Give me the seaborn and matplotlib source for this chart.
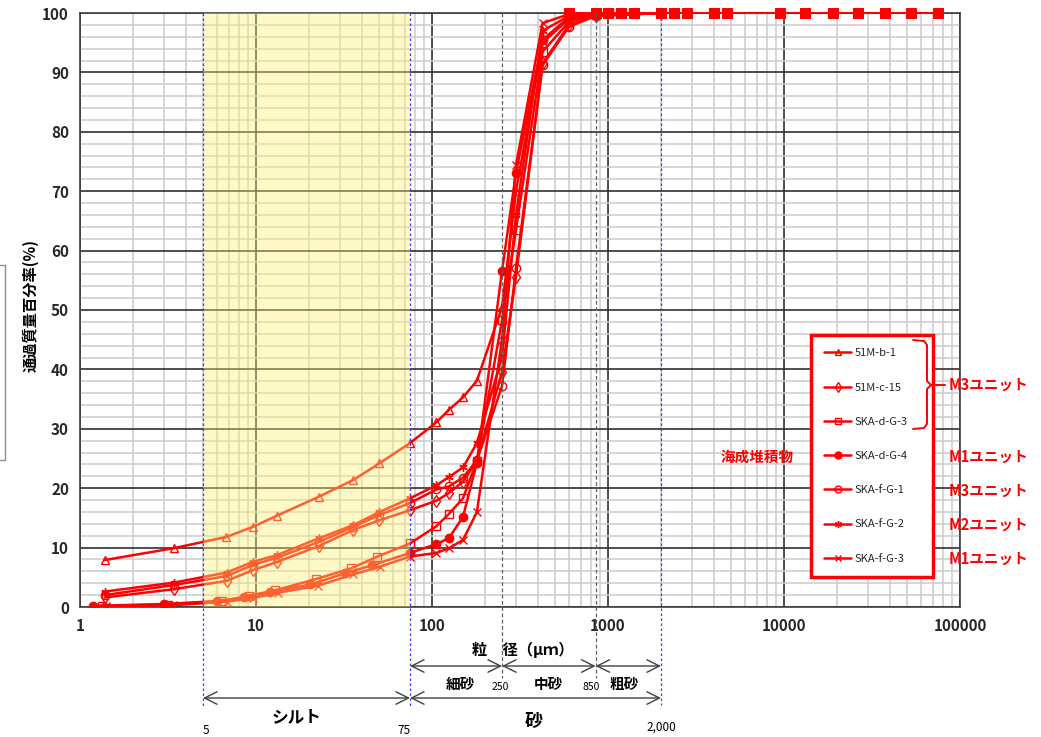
import numpy as np
import pandas as pd
import matplotlib
matplotlib.use("Agg")
import matplotlib.pyplot as plt
import matplotlib.transforms as mtransforms
from matplotlib.lines import Line2D
from matplotlib.ticker import FixedLocator, NullFormatter
import seaborn as sns

# sieve / hydrometer diameters (um) and passing percentage (%)
sieve = [75, 106, 125, 150, 180, 250, 300, 425, 600, 850, 2000]

d_b1 = [1.38, 3.41, 6.78, 9.62, 13.2, 22.9, 35.8, 50.3] + sieve
p_b1 = [7.9, 9.9, 11.8, 13.5, 15.4, 18.6, 21.4, 24.2,
        27.6, 31.1, 33.2, 35.3, 38.1, 50.5, 70.0, 95.0, 99.0, 99.8, 100]

d_c15 = [1.38, 3.41, 6.8, 9.6, 13.2, 22.9, 35.8, 50.3] + sieve
p_c15 = [1.6, 3.0, 4.4, 6.2, 7.6, 10.3, 13.0, 14.6,
         16.3, 17.9, 19.2, 21.1, 24.6, 39.6, 55.6, 91.5, 98.0, 99.5, 100]

d_dg3 = [1.33, 3.15, 6.43, 9.1, 12.8, 21.9, 34.7, 49.0] + sieve
p_dg3 = [0.2, 0.4, 1.0, 1.9, 2.8, 4.7, 6.5, 8.5,
         10.7, 13.6, 15.7, 18.3, 24.6, 48.3, 63.5, 93.5, 98.5, 99.7, 100]

d_dg4 = [1.19, 2.99, 6.02, 8.5, 12.0, 20.4, 32.2, 45.4] + sieve
p_dg4 = [0.2, 0.5, 1.0, 1.6, 2.5, 3.8, 5.7, 7.0,
         9.1, 10.6, 11.6, 15.2, 24.3, 56.6, 73.1, 95.5, 99.3, 100, 100]

d_fg1 = [1.38, 3.41, 6.8, 9.6, 13.2, 22.9, 35.8, 50.3] + sieve
p_fg1 = [2.0, 3.7, 5.2, 7.1, 8.3, 11.0, 13.5, 15.5,
         17.5, 19.8, 20.3, 21.8, 24.7, 37.2, 57.0, 91.2, 97.7, 99.5, 100]

d_fg2 = [1.38, 3.41, 6.8, 9.6, 13.2, 22.9, 35.8, 50.3] + sieve
p_fg2 = [2.6, 4.1, 5.8, 7.6, 8.75, 11.6, 13.8, 16.0,
         18.3, 20.5, 21.9, 23.5, 27.6, 42.1, 66.0, 97.0, 99.5, 100, 100]

d_fg3 = [1.41, 3.37, 6.8, 9.6, 13.4, 22.6, 35.8, 50.7] + sieve
p_fg3 = [0.1, 0.3, 0.9, 1.5, 2.4, 3.6, 5.5, 6.8,
         8.5, 9.1, 9.9, 11.3, 16.0, 45.0, 74.4, 98.3, 99.8, 100, 100]

# coarse sieves, all 100 %
d_coarse = [600, 850, 1000, 1180, 1400, 2000, 2360, 2800, 4000, 4750,
            9500, 13200, 19000, 26500, 37500, 53000, 75000]
p_coarse = [100] * len(d_coarse)

names = ["51M-b-1", "51M-c-15", "SKA-d-G-3", "SKA-d-G-4",
         "SKA-f-G-1", "SKA-f-G-2", "SKA-f-G-3"]
units = ["M3ユニット", "M1ユニット", "M3ユニット", "M2ユニット", "M1ユニット"]
xticks = [1, 10, 100, 1000, 10000, 100000]

series = [(d_b1, p_b1, "^", "none"), (d_c15, p_c15, "d", "none"),
          (d_dg3, p_dg3, "s", "none"), (d_dg4, p_dg4, "o", "red"),
          (d_fg1, p_fg1, "o", "none"), (d_fg2, p_fg2, (6, 2, 0), "none"),
          (d_fg3, p_fg3, "x", "none")]

sns.set_style("white")
plt.rcParams["font.family"] = ["Noto Sans CJK JP", "DejaVu Sans"]

W, H = 1041, 737
fig = plt.figure(figsize=(W / 100, H / 100), dpi=100)
ax = fig.add_axes([80 / W, 1 - 607 / H, 880 / W, 594 / H])

def fx(px):
    return px / W

def fy(py):
    return 1 - py / H

handles = []
for (d, p, m, fc), name in zip(series, names):
    df = pd.DataFrame({"d": d, "p": p})
    sns.lineplot(data=df, x="d", y="p", ax=ax, color="red", lw=1.8,
                 marker=m, markersize=6, markerfacecolor=fc,
                 markeredgecolor="red", markeredgewidth=1.0,
                 sort=False, zorder=4)
    handles.append(Line2D([], [], color="red", lw=1.8, marker=m,
                          markersize=5, markerfacecolor=fc,
                          markeredgecolor="red", label=name))

dfc = pd.DataFrame({"d": d_coarse, "p": p_coarse})
sns.lineplot(data=dfc, x="d", y="p", ax=ax, color="red", lw=1.5,
             marker="s", markersize=7, markeredgecolor="red",
             sort=False, zorder=4, clip_on=False)

ax.set_xscale("log")
ax.set_xlim(1, 100000)
ax.set_ylim(0, 100)

# grid
ax.xaxis.set_major_locator(FixedLocator(xticks))
ax.xaxis.set_minor_locator(FixedLocator(
    [m * 10 ** e for e in range(0, 5) for m in range(2, 10)]))
ax.xaxis.set_minor_formatter(NullFormatter())
ax.set_yticks(np.arange(0, 101, 10))
ax.set_yticks(np.arange(0, 101, 2), minor=True)
ax.grid(which="minor", color="#cccccc", lw=1.1, zorder=0)
ax.grid(which="major", color="#303030", lw=1.2, zorder=1)
ax.set_axisbelow(True)
ax.set_xticklabels([str(t) for t in xticks])
ax.tick_params(axis="both", which="both", length=0, labelsize=11, pad=8)
for lab in ax.get_xticklabels() + ax.get_yticklabels():
    lab.set_fontweight("bold")
for s in ax.spines.values():
    s.set_color("#404040")
    s.set_linewidth(1.2)
ax.set_xlabel("")
ax.set_ylabel("")

# silt range shading (drawn over the lines as in the original)
ax.axvspan(5, 75, color="#FFF176", alpha=0.4, zorder=5, lw=0)

# boundary lines
tr = mtransforms.blended_transform_factory(ax.transData, fig.transFigure)
for xv, yb in [(5, 708), (75, 708), (2000, 705)]:
    ax.plot([xv, xv], [fy(13), fy(yb)], transform=tr, color="#3b3bff",
            lw=0.9, ls=(0, (2, 2)), clip_on=False, zorder=6)
for xv in [250, 850]:
    ax.plot([xv, xv], [fy(13), fy(678)], transform=tr, color="#606060",
            lw=0.9, ls=(0, (3, 2)), clip_on=False, zorder=6)

# range arrows below the axis
arr = dict(arrowstyle="<->,head_length=0.9,head_width=0.45", color="#404040",
           lw=1.0, shrinkA=0, shrinkB=0)
for x0, x1, yy in [(75, 250, 666), (250, 850, 666), (850, 2000, 666),
                   (5, 75, 698), (75, 2000, 698)]:
    ax.annotate("", xy=(x0, fy(yy)), xytext=(x1, fy(yy)), xycoords=tr,
                textcoords=tr, arrowprops=arr, annotation_clip=False)

def ftext(px, py, s, size, bold=True, color="black", **kw):
    fig.text(fx(px), fy(py), s, fontsize=size, color=color,
             fontweight="bold" if bold else "normal",
             ha="center", va="center", **kw)

ftext(523, 650, "粒　径（μｍ）", 11)
ftext(460, 684, "細砂", 10.5)
ftext(548, 684, "中砂", 10.5)
ftext(624, 684, "粗砂", 10.5)
ftext(500, 687, "250", 7.5, bold=False)
ftext(591, 687, "850", 7.5, bold=False)
ftext(297, 717, "シルト", 12)
ftext(534, 721, "砂", 13)
ftext(206, 730, "5", 8.5, bold=False)
ftext(404, 730, "75", 8.5, bold=False)
ftext(661, 727, "2,000", 8.5, bold=False)
ftext(30, 305, "通過質量百分率(%)", 11, rotation=90)

# legend, stretched to the width of the red box
leg = ax.legend(handles=handles, loc="upper left", mode="expand",
                bbox_to_anchor=(fx(811), fy(575), fx(933) - fx(811), fy(335) - fy(575)),
                bbox_transform=fig.transFigure,
                fontsize=8, labelspacing=2.18, handlelength=2.4,
                handletextpad=0.3, borderpad=1.2, borderaxespad=0,
                fancybox=False, framealpha=1, edgecolor="red")
leg.get_frame().set_linewidth(2.5)
leg.set_zorder(10)

# unit labels
ftext(988, 385, units[0], 10.5, color="red")
for uy, u in zip([457, 491, 525, 559], units[1:]):
    ftext(988, uy, u, 10.5, color="red")
ftext(757, 457, "海成堆積物", 10.5, color="red")

# bracket for the three M3 samples
bx = [fx(v) for v in [913, 924, 927, 927, 931, 927, 927, 924, 913]]
by = [fy(v) for v in [340, 341, 345, 381, 385, 389, 424, 428, 429]]
fig.add_artist(Line2D(bx, by, color="red", lw=1.4, zorder=11))
fig.add_artist(Line2D([fx(931), fx(945)], [fy(385), fy(385)], color="red",
                      lw=1.4, zorder=11))

# partial frame at the left edge
fig.add_artist(Line2D([0, fx(5), fx(5), 0], [fy(265), fy(265), fy(460), fy(460)],
                      color="#909090", lw=1.0))

fig.savefig("out.png", dpi=100)
